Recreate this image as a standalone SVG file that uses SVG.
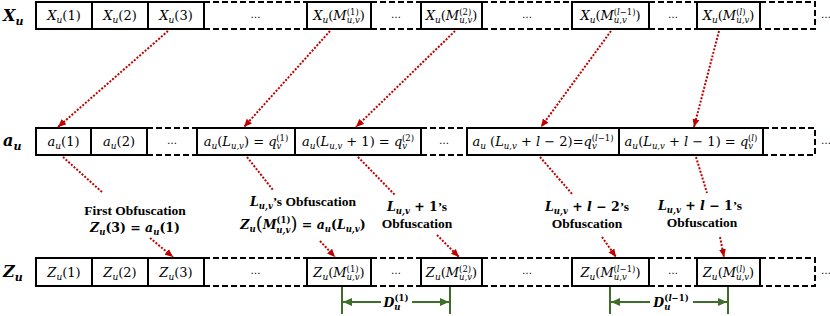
<svg xmlns="http://www.w3.org/2000/svg" width="830" height="316" viewBox="0 0 830 316">
<defs>
<marker id="ar" markerUnits="userSpaceOnUse" markerWidth="9" markerHeight="8" refX="8" refY="4" orient="auto"><path d="M0,0.5 L8,4 L0,7.5 z" fill="#c00000"/></marker>
<marker id="ag" markerUnits="userSpaceOnUse" markerWidth="10" markerHeight="10" refX="9" refY="5" orient="auto"><path d="M0,1 L9,5 L0,9 z" fill="#3f6d2a"/></marker>
</defs>
<style>
.box{fill:#fff;stroke:#000;stroke-width:2}
.dash{fill:none;stroke:#000;stroke-width:2;stroke-dasharray:6 3}
.m{font-family:"DejaVu Serif",serif;font-size:13px;text-anchor:middle;fill:#000}
.i{font-style:italic}
.s{font-size:9px}
.t{font-size:8.5px}
.el{font-family:"DejaVu Sans",sans-serif;font-size:10px;text-anchor:middle;fill:#000}
.rl{font-family:"DejaVu Serif",serif;font-weight:bold;font-style:italic;font-size:16px;fill:#000}
.rs{font-size:11px}
.lb{font-family:"Liberation Serif",serif;font-weight:bold;font-size:13.5px;text-anchor:middle;fill:#000}
.mb{font-family:"DejaVu Serif",serif;font-size:12.5px}
.bs{font-size:8.5px}
.big{font-size:18px;font-weight:normal}
.red{fill:none;stroke:#c00000;stroke-width:2;stroke-dasharray:2 1.6}
.grn{fill:none;stroke:#3f6d2a;stroke-width:2}
</style>

<!-- Row labels -->
<g id="label-X"><text class="rl" x="3" y="21">X<tspan class="rs" dy="4">u</tspan></text></g>
<g id="label-a"><text class="rl" x="3" y="146">a<tspan class="rs" dy="4">u</tspan></text></g>
<g id="label-Z"><text class="rl" x="3" y="277">Z<tspan class="rs" dy="4">u</tspan></text></g>

<!-- X row -->
<g id="x1"><rect class="box" x="36" y="2" width="56" height="27"/><text class="m" x="64" y="20"><tspan class="i">X</tspan><tspan class="i s" dy="3">u</tspan><tspan dy="-3">(1)</tspan></text></g>
<g id="x2"><rect class="box" x="92" y="2" width="56" height="27"/><text class="m" x="120" y="20"><tspan class="i">X</tspan><tspan class="i s" dy="3">u</tspan><tspan dy="-3">(2)</tspan></text></g>
<g id="x3"><rect class="box" x="148" y="2" width="56" height="27"/><text class="m" x="176" y="20"><tspan class="i">X</tspan><tspan class="i s" dy="3">u</tspan><tspan dy="-3">(3)</tspan></text></g>
<g id="x-gap1"><path class="dash" d="M204,2 H307 M204,29 H307"/><text class="el" x="255.5" y="18">…</text></g>
<g id="xM1"><rect class="box" x="307" y="2" width="64" height="27"/><text class="m" x="339" y="20"><tspan class="i">X</tspan><tspan class="i s" dy="3">u</tspan><tspan dy="-3">(</tspan><tspan class="i">M</tspan><tspan class="t" dy="-5.5">(1)</tspan><tspan class="i t" dx="-12" dy="8.5">u,v</tspan><tspan dy="-3">)</tspan></text></g>
<g id="x-gap2"><path class="dash" d="M371,2 H421 M371,29 H421"/><text class="el" x="396" y="18">…</text></g>
<g id="xM2"><rect class="box" x="421" y="2" width="61" height="27"/><text class="m" x="451.5" y="20"><tspan class="i">X</tspan><tspan class="i s" dy="3">u</tspan><tspan dy="-3">(</tspan><tspan class="i">M</tspan><tspan class="t" dy="-5.5">(2)</tspan><tspan class="i t" dx="-12" dy="8.5">u,v</tspan><tspan dy="-3">)</tspan></text></g>
<g id="x-gap3"><path class="dash" d="M482,2 H572 M482,29 H572"/><text class="el" x="527" y="18">…</text></g>
<g id="xMl1"><rect class="box" x="572" y="2" width="77" height="27"/><text class="m" x="610.5" y="20"><tspan class="i">X</tspan><tspan class="i s" dy="3">u</tspan><tspan dy="-3">(</tspan><tspan class="i">M</tspan><tspan class="i t" dy="3">u,v</tspan><tspan class="t" dx="-13.2" dy="-8.5">(<tspan class="i">l</tspan>−1)</tspan><tspan dy="5.5">)</tspan></text></g>
<g id="x-gap4"><path class="dash" d="M649,2 H697 M649,29 H697"/><text class="el" x="673" y="18">…</text></g>
<g id="xMl"><rect class="box" x="697" y="2" width="63" height="27"/><text class="m" x="728.5" y="20"><tspan class="i">X</tspan><tspan class="i s" dy="3">u</tspan><tspan dy="-3">(</tspan><tspan class="i">M</tspan><tspan class="t" dy="-5.5">(<tspan class="i">l</tspan>)</tspan><tspan class="i t" dx="-9.3" dy="8.5">u,v</tspan><tspan dy="-3">)</tspan></text></g>
<g id="x-end"><path class="dash" d="M760,2 H815 V29 H760"/><text class="el" x="826" y="18">…</text></g>

<!-- a row -->
<g id="a1"><rect class="box" x="36" y="128" width="55" height="27"/><text class="m" x="63.5" y="146"><tspan class="i">a</tspan><tspan class="i s" dy="3">u</tspan><tspan dy="-3">(1)</tspan></text></g>
<g id="a2"><rect class="box" x="91" y="128" width="56" height="27"/><text class="m" x="119" y="146"><tspan class="i">a</tspan><tspan class="i s" dy="3">u</tspan><tspan dy="-3">(2)</tspan></text></g>
<g id="a-gap1"><path class="dash" d="M147,128 H197 M147,155 H197"/><text class="el" x="172" y="144">…</text></g>
<g id="aL"><rect class="box" x="197" y="128" width="98" height="27"/><text class="m" x="246" y="146"><tspan class="i">a</tspan><tspan class="i s" dy="3">u</tspan><tspan dy="-3">(</tspan><tspan class="i">L</tspan><tspan class="i t" dy="3">u,v</tspan><tspan dy="-3">) = </tspan><tspan class="i">q</tspan><tspan class="i t" dy="3">v</tspan><tspan class="t" dx="-5" dy="-8.5">(1)</tspan></text></g>
<g id="aL1"><rect class="box" x="295" y="128" width="126" height="27"/><text class="m" x="358" y="146"><tspan class="i">a</tspan><tspan class="i s" dy="3">u</tspan><tspan dy="-3">(</tspan><tspan class="i">L</tspan><tspan class="i t" dy="3">u,v</tspan><tspan dy="-3"> + 1) = </tspan><tspan class="i">q</tspan><tspan class="i t" dy="3">v</tspan><tspan class="t" dx="-5" dy="-8.5">(2)</tspan></text></g>
<g id="a-gap2"><path class="dash" d="M421,128 H467 M421,155 H467"/><text class="el" x="444" y="144">…</text></g>
<g id="aLl2"><rect class="box" x="467" y="128" width="152" height="27"/><text class="m" x="543" y="146"><tspan class="i">a</tspan><tspan class="i s" dy="3">u</tspan><tspan dy="-3"> (</tspan><tspan class="i">L</tspan><tspan class="i t" dy="3">u,v</tspan><tspan dy="-3"> + </tspan><tspan class="i">l</tspan><tspan> − 2)=</tspan><tspan class="i">q</tspan><tspan class="i t" dy="3">v</tspan><tspan class="t" dx="-5" dy="-8.5">(<tspan class="i">l</tspan>−1)</tspan></text></g>
<g id="aLl1"><rect class="box" x="619" y="128" width="144" height="27"/><text class="m" x="691" y="146"><tspan class="i">a</tspan><tspan class="i s" dy="3">u</tspan><tspan dy="-3">(</tspan><tspan class="i">L</tspan><tspan class="i t" dy="3">u,v</tspan><tspan dy="-3"> + </tspan><tspan class="i">l</tspan><tspan> − 1) = </tspan><tspan class="i">q</tspan><tspan class="i t" dy="3">v</tspan><tspan class="t" dx="-5" dy="-8.5">(<tspan class="i">l</tspan>)</tspan></text></g>
<g id="a-end"><path class="dash" d="M763,128 H815 V155 H763"/><text class="el" x="826" y="144">…</text></g>

<!-- Z row -->
<g id="z1"><rect class="box" x="36" y="258" width="56" height="28"/><text class="m" x="64" y="277"><tspan class="i">Z</tspan><tspan class="i s" dy="3">u</tspan><tspan dy="-3">(1)</tspan></text></g>
<g id="z2"><rect class="box" x="92" y="258" width="56" height="28"/><text class="m" x="120" y="277"><tspan class="i">Z</tspan><tspan class="i s" dy="3">u</tspan><tspan dy="-3">(2)</tspan></text></g>
<g id="z3"><rect class="box" x="148" y="258" width="56" height="28"/><text class="m" x="176" y="277"><tspan class="i">Z</tspan><tspan class="i s" dy="3">u</tspan><tspan dy="-3">(3)</tspan></text></g>
<g id="z-gap1"><path class="dash" d="M204,258 H307 M204,286 H307"/><text class="el" x="255.5" y="274">…</text></g>
<g id="zM1"><rect class="box" x="307" y="258" width="64" height="28"/><text class="m" x="339" y="277"><tspan class="i">Z</tspan><tspan class="i s" dy="3">u</tspan><tspan dy="-3">(</tspan><tspan class="i">M</tspan><tspan class="t" dy="-5.5">(1)</tspan><tspan class="i t" dx="-12" dy="8.5">u,v</tspan><tspan dy="-3">)</tspan></text></g>
<g id="z-gap2"><path class="dash" d="M371,258 H421 M371,286 H421"/><text class="el" x="396" y="274">…</text></g>
<g id="zM2"><rect class="box" x="421" y="258" width="61" height="28"/><text class="m" x="451.5" y="277"><tspan class="i">Z</tspan><tspan class="i s" dy="3">u</tspan><tspan dy="-3">(</tspan><tspan class="i">M</tspan><tspan class="t" dy="-5.5">(2)</tspan><tspan class="i t" dx="-12" dy="8.5">u,v</tspan><tspan dy="-3">)</tspan></text></g>
<g id="z-gap3"><path class="dash" d="M482,258 H572 M482,286 H572"/><text class="el" x="527" y="274">…</text></g>
<g id="zMl1"><rect class="box" x="572" y="258" width="77" height="28"/><text class="m" x="610.5" y="277"><tspan class="i">Z</tspan><tspan class="i s" dy="3">u</tspan><tspan dy="-3">(</tspan><tspan class="i">M</tspan><tspan class="i t" dy="3">u,v</tspan><tspan class="t" dx="-13.2" dy="-8.5">(<tspan class="i">l</tspan>−1)</tspan><tspan dy="5.5">)</tspan></text></g>
<g id="z-gap4"><path class="dash" d="M649,258 H697 M649,286 H697"/><text class="el" x="673" y="274">…</text></g>
<g id="zMl"><rect class="box" x="697" y="258" width="63" height="28"/><text class="m" x="728.5" y="277"><tspan class="i">Z</tspan><tspan class="i s" dy="3">u</tspan><tspan dy="-3">(</tspan><tspan class="i">M</tspan><tspan class="t" dy="-5.5">(<tspan class="i">l</tspan>)</tspan><tspan class="i t" dx="-9.3" dy="8.5">u,v</tspan><tspan dy="-3">)</tspan></text></g>
<g id="z-end"><path class="dash" d="M760,258 H815 V286 H760"/><text class="el" x="826" y="274">…</text></g>

<!-- Connectors -->
<g id="connectors">
<line class="red" x1="168" y1="31" x2="58" y2="127" marker-end="url(#ar)"/>
<line class="red" x1="330" y1="31" x2="244" y2="127" marker-end="url(#ar)"/>
<line class="red" x1="455" y1="31" x2="356" y2="127" marker-end="url(#ar)"/>
<line class="red" x1="611" y1="31" x2="541" y2="127" marker-end="url(#ar)"/>
<line class="red" x1="719" y1="31" x2="694" y2="127" marker-end="url(#ar)"/>
<line class="red" x1="63" y1="157" x2="103" y2="193"/>
<line class="red" x1="247" y1="157" x2="273" y2="190"/>
<line class="red" x1="358" y1="157" x2="395" y2="195"/>
<line class="red" x1="540" y1="157" x2="573" y2="195"/>
<line class="red" x1="696" y1="157" x2="707" y2="193"/>
<line class="red" x1="150" y1="238" x2="173" y2="257" marker-end="url(#ar)"/>
<line class="red" x1="320" y1="241" x2="335" y2="257" marker-end="url(#ar)"/>
<line class="red" x1="437" y1="235" x2="459" y2="257" marker-end="url(#ar)"/>
<line class="red" x1="602" y1="237" x2="616" y2="257" marker-end="url(#ar)"/>
<line class="red" x1="720" y1="237" x2="724" y2="257" marker-end="url(#ar)"/>
<line class="grn" x1="342" y1="287" x2="342" y2="314"/>
<line class="grn" x1="450" y1="287" x2="450" y2="314"/>
<line class="grn" x1="381" y1="302" x2="343" y2="302" marker-end="url(#ag)"/>
<line class="grn" x1="412" y1="302" x2="449" y2="302" marker-end="url(#ag)"/>
<line class="grn" x1="610" y1="287" x2="610" y2="314"/>
<line class="grn" x1="728" y1="287" x2="728" y2="314"/>
<line class="grn" x1="650" y1="302" x2="611" y2="302" marker-end="url(#ag)"/>
<line class="grn" x1="693" y1="302" x2="727" y2="302" marker-end="url(#ag)"/>
</g>

<!-- Labels -->
<g id="lbl-first">
<text class="lb" x="135" y="215">First Obfuscation</text>
<text class="lb" x="135" y="232"><tspan class="mb i">Z</tspan><tspan class="mb i bs" dy="3">u</tspan><tspan class="mb" dy="-3">(3) = </tspan><tspan class="mb i">a</tspan><tspan class="mb i bs" dy="3">u</tspan><tspan class="mb" dy="-3">(1)</tspan></text>
</g>
<g id="lbl-L">
<text class="lb" x="303" y="206"><tspan class="mb i">L</tspan><tspan class="mb i bs" dy="3">u,v</tspan><tspan dy="-3">’s Obfuscation</tspan></text>
<text class="lb" x="303" y="229"><tspan class="mb i">Z</tspan><tspan class="mb i bs" dy="3">u</tspan><tspan class="mb big" dy="-2">(</tspan><tspan class="mb i" dy="-1">M</tspan><tspan class="mb bs" dy="-6">(1)</tspan><tspan class="mb i bs" dx="-14.1" dy="10">u,v</tspan><tspan class="mb big" dy="-3">)</tspan><tspan class="mb" dy="-1"> = </tspan><tspan class="mb i">a</tspan><tspan class="mb i bs" dy="3">u</tspan><tspan class="mb" dy="-3">(</tspan><tspan class="mb i">L</tspan><tspan class="mb i bs" dy="3">u,v</tspan><tspan class="mb" dy="-3">)</tspan></text>
</g>
<g id="lbl-L1">
<text class="lb" x="417" y="211"><tspan class="mb i">L</tspan><tspan class="mb i bs" dy="3">u,v</tspan><tspan class="mb" dy="-3"> + 1</tspan><tspan>’s</tspan></text>
<text class="lb" x="417" y="228">Obfuscation</text>
</g>
<g id="lbl-Ll2">
<text class="lb" x="587" y="211"><tspan class="mb i">L</tspan><tspan class="mb i bs" dy="3">u,v</tspan><tspan class="mb" dy="-3"> + </tspan><tspan class="mb i">l</tspan><tspan class="mb"> − 2</tspan><tspan>’s</tspan></text>
<text class="lb" x="587" y="228">Obfuscation</text>
</g>
<g id="lbl-Ll1">
<text class="lb" x="700" y="210"><tspan class="mb i">L</tspan><tspan class="mb i bs" dy="3">u,v</tspan><tspan class="mb" dy="-3"> + </tspan><tspan class="mb i">l</tspan><tspan class="mb"> − 1</tspan><tspan>’s</tspan></text>
<text class="lb" x="702" y="227">Obfuscation</text>
</g>
<g id="lbl-D1"><text class="lb" x="396" y="307"><tspan class="mb i">D</tspan><tspan class="mb i bs" dy="3">u</tspan><tspan class="mb bs" dx="-6" dy="-9">(1)</tspan></text></g>
<g id="lbl-Dl1"><text class="lb" x="671" y="307"><tspan class="mb i">D</tspan><tspan class="mb i bs" dy="3">u</tspan><tspan class="mb bs" dx="-6" dy="-9">(<tspan class="i">l</tspan>−1)</tspan></text></g>
</svg>
